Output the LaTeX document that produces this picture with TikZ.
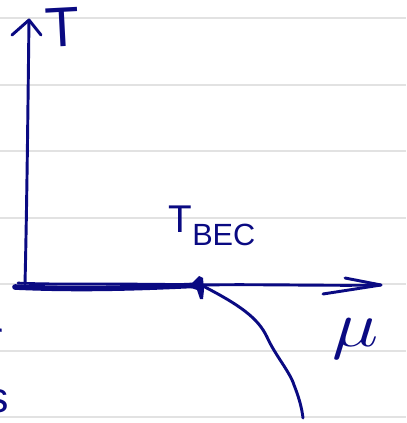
\documentclass[tikz,border=0pt]{standalone}
\usepackage{fontspec}
\setmainfont{Liberation Sans}
\definecolor{ink}{RGB}{10,10,130}
\definecolor{rule}{RGB}{226,226,226}
\begin{document}
\begin{tikzpicture}[x=0.75pt,y=-0.75pt,
  ruleline/.style={draw=rule,line width=1.5pt},
  pen/.style={draw=ink,line width=2.2pt,line cap=round,line join=round},
  label/.style={text=ink,inner sep=0pt,anchor=base west}]
\useasboundingbox (0,0) rectangle (406,423);
\clip (0,0) rectangle (406,423);
\fill[white] (0,0) rectangle (406,423);
% ruled lines
\foreach \y in {18,85,151,218,284,351,417}
  \draw[ruleline] (0,\y) -- (406,\y);
% key points
\coordinate (origin) at (25,284);
\coordinate (ytip) at (29,20);
\coordinate (xstart) at (15,287);
\coordinate (bec) at (201,285);
\coordinate (xtip) at (381,285);
\coordinate (curveend) at (303,418);
% vertical axis
\draw[pen] (origin) .. controls (27,200) and (28,100) .. (ytip);
\draw[pen] (12,35) -- (ytip) -- (41,35);
% horizontal axis: thick part
\draw[pen,line width=4.2pt] (xstart) .. controls (80,290) and (140,288) .. (bec);
\draw[pen,line width=2pt] (18,283) .. controls (60,285) and (120,283) .. (bec);
% thin part and arrow head
\draw[pen] (bec) .. controls (260,284) and (330,286) .. (xtip);
\draw[pen] (345,278) -- (xtip) -- (323,294);
% triangle at T_BEC
\fill[ink] (188,287) -- (199,276) -- (203,278) -- (204,290) -- (203,299) -- (200,299) -- (197,290) -- cycle;
% curve
\draw[pen] (bec) .. controls (240,305) and (258,318) .. (267,337)
  .. controls (275,355) and (290,372) .. (294,385)
  .. controls (300,400) and (302,410) .. (curveend);
% labels
\node[label,font=\fontsize{42}{42}\selectfont,rotate=3] (t) at (46,48) {T};
\node[label,font=\fontsize{29}{29}\selectfont] (tbecT) at (168,233) {T};
\node[label,font=\fontsize{23}{23}\selectfont] (tbec) at (192,245) {BEC};
\node[label,font=\LARGE,xscale=3.4,yscale=2.8] (mu) at (332,346) {$\mu$};
% cut-off letters at left margin
\node[label,font=\fontsize{30}{30}\selectfont] (rpart) at (-11,350) {r};
\node[label,font=\fontsize{32}{32}\selectfont] (spart) at (-13,412) {s};
\end{tikzpicture}
\end{document}
